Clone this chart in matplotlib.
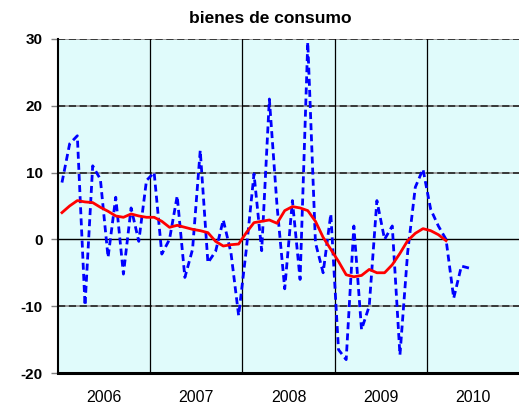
import numpy as np
import matplotlib
matplotlib.use("Agg")
import matplotlib.pyplot as plt

plt.rcParams['font.family'] = ['Liberation Sans', 'DejaVu Sans']

# variacion mensual (linea azul discontinua), ene-2006 .. jun-2010
mensual = [8.5, 14.3, 15.5, -9.9, 11.0, 9.0, -2.7, 6.3, -5.2, 4.7, -0.3, 8.8,
           10.0, -2.2, 0.0, 6.5, -5.7, -1.5, 13.3, -3.5, -1.8, 2.9, -2.0, -11.4,
           -1.5, 9.8, -1.7, 21.0, 5.0, -7.4, 5.8, -6.0, 29.5, -0.5, -5.0, 3.8,
           -16.5, -18.0, 2.0, -13.5, -10.0, 5.8, 0.0, 2.0, -17.3, -2.0, 7.8, 10.5,
           4.5, 2.0, 0.0, -8.8, -4.0, -4.3]

# tendencia (linea roja), ene-2006 .. mar-2010
tendencia = [4.0, 5.0, 5.8, 5.6, 5.5, 4.8, 4.2, 3.5, 3.3, 3.8, 3.5, 3.3,
             3.3, 2.7, 1.8, 2.1, 1.8, 1.5, 1.3, 1.0, -0.3, -1.0, -0.8, -0.7,
             1.0, 2.5, 2.7, 2.9, 2.4, 4.3, 4.9, 4.7, 4.3, 2.7, 0.3, -1.5,
             -3.3, -5.3, -5.6, -5.4, -4.5, -5.0, -5.0, -3.8, -2.1, -0.2, 0.9, 1.6,
             1.3, 0.7, -0.2]

anios = [2006, 2007, 2008, 2009, 2010]
titulo = "bienes de consumo"

x_m = 2006 + (np.arange(len(mensual)) + 0.5) / 12
x_t = 2006 + (np.arange(len(tendencia)) + 0.5) / 12

fig = plt.figure(figsize=(5.19, 4.09), dpi=100)
ax = fig.add_axes([0.112, 0.088, 0.888, 0.817])
ax.set_facecolor('#e0fbfb')

ax.set_xlim(2006, 2011)
ax.set_ylim(-20, 30)

# rejilla horizontal
for v in [-10, 10, 20, 30]:
    ax.axhline(v, color='#9a9a9a', lw=1.3, zorder=1)
    ax.axhline(v, color='#303030', lw=1.3, ls=(0, (4, 2)), zorder=1)
ax.axhline(0, color='black', lw=1.0, zorder=1)
# separacion de anios
for a in anios[1:]:
    ax.axvline(a, color='black', lw=0.9, zorder=1)

ax.plot(x_m, mensual, color='#0000ff', lw=2.0, ls=(0, (2.5, 1.5)), zorder=3)
ax.plot(x_t, tendencia, color='#ff0000', lw=2.0, zorder=4)

ax.set_yticks(range(-20, 31, 10))
ax.set_yticklabels([str(v) for v in range(-20, 31, 10)], fontweight='bold', fontsize=11)
ax.tick_params(axis='y', length=5, width=1, color='gray', pad=6)

ax.set_xticks(anios + [2011])
ax.set_xticklabels([])
ax.set_xticks([a + 0.5 for a in anios], minor=True)
ax.set_xticklabels([str(a) for a in anios], minor=True, fontsize=11.5)
ax.tick_params(axis='x', which='both', length=0, pad=12)

for s in ['top', 'right']:
    ax.spines[s].set_visible(False)
ax.spines['left'].set_linewidth(1.5)
ax.spines['bottom'].set_linewidth(2.2)

fig.text(0.52, 0.955, titulo, ha='center', va='center',
         fontsize=12.5, fontweight='bold')

fig.savefig('out.png', dpi=100)
